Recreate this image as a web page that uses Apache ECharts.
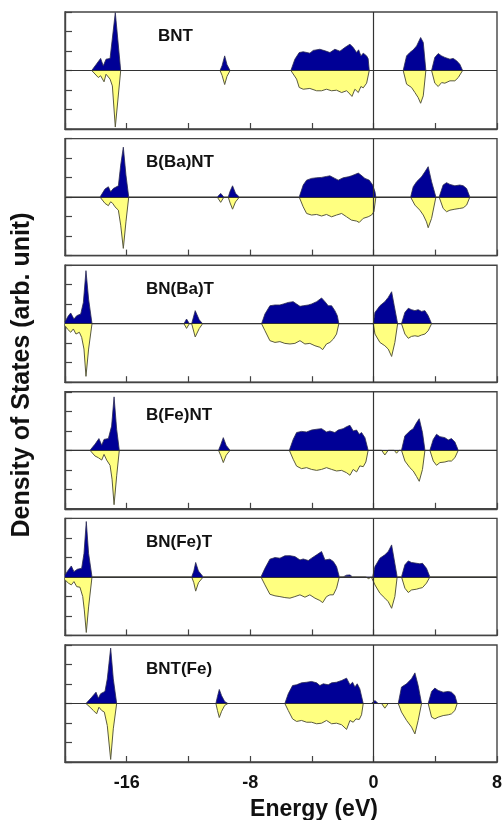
<!DOCTYPE html>
<html>
<head>
<meta charset="utf-8">
<script src="https://cdn.jsdelivr.net/npm/echarts@6/dist/echarts.min.js"></script>
<style>
  html, body { margin: 0; padding: 0; background: #fff; }
  #chart { width: 502px; height: 820px; }
</style>
</head>
<body>
<div id="chart"></div>
<script>
// Spin-resolved density of states, one panel per composition.
// Each list holds [energy (eV), DOS (arb. unit)] pairs; spin-down values are negative.
const panelNames = ['BNT', 'B(Ba)NT', 'BN(Ba)T', 'B(Fe)NT', 'BN(Fe)T', 'BNT(Fe)'];
const energyTickLabels = [-16, -8, 0, 8];

const upBNT = [[-20,0],[-18.27,0],[-17.69,0.62],[-17.52,0.24],[-17.34,0.58],[-17.08,0.62],[-16.74,2.97],[-16.39,0],
  [-9.95,0],[-9.82,0.25],[-9.65,0.75],[-9.5,0.3],[-9.3,0],
  [-5.36,0],[-5.10,0.58],[-4.82,0.92],[-4.56,0.96],[-4.13,0.89],[-3.91,1.03],[-3.48,1.09],[-3.15,1.01],[-2.83,0.92],[-2.51,1.09],[-2.18,0.99],[-1.86,1.18],[-1.53,1.35],[-1.43,1.38],[-1.32,1.18],[-1.10,0.92],[-0.97,1.06],[-0.82,0.75],[-0.67,0.89],[-0.45,0.75],[-0.35,0.6],[-0.28,0],
  [1.92,0],[2.14,0.75],[2.35,0.92],[2.57,1.06],[2.79,1.26],[3.05,1.69],[3.22,1.44],[3.39,0],
  [3.76,0],[3.97,0.67],[4.19,0.87],[4.41,0.75],[4.62,0.67],[4.95,0.58],[5.16,0.62],[5.38,0.5],[5.59,0.32],[5.77,0],[8,0]];
const downBNT = [[-20,0],[-18.27,0],[-17.84,-0.36],[-17.69,-0.27],[-17.47,-0.58],[-17.34,-0.19],[-17.08,-0.44],[-16.93,-0.79],[-16.74,-2.9],[-16.39,0],
  [-9.95,0],[-9.82,-0.25],[-9.65,-0.72],[-9.5,-0.3],[-9.3,0],
  [-5.36,0],[-4.99,-0.44],[-4.82,-0.87],[-4.56,-0.96],[-4.13,-0.92],[-3.69,-1.04],[-3.37,-1.04],[-3.05,-0.96],[-2.72,-1.04],[-2.40,-1.01],[-2.07,-1.13],[-1.75,-1.04],[-1.53,-1.21],[-1.40,-1.33],[-1.21,-0.96],[-0.99,-1.13],[-0.82,-0.82],[-0.67,-0.89],[-0.45,-0.65],[-0.28,0],
  [1.92,0],[2.14,-0.70],[2.46,-0.87],[2.68,-1.13],[2.89,-1.39],[3.05,-1.68],[3.22,-1.30],[3.39,0],
  [3.76,0],[3.97,-0.65],[4.19,-0.82],[4.41,-0.62],[4.62,-0.65],[4.95,-0.53],[5.27,-0.53],[5.49,-0.36],[5.77,0],[8,0]];

const upBBaNT = [[-20,0],[-17.73,0],[-17.41,0.41],[-17.19,0.53],[-17.04,0.27],[-16.87,0.44],[-16.54,0.58],[-16.39,1.64],[-16.22,2.56],[-16.05,1.13],[-15.87,0],
  [-10.13,0],[-9.91,0.19],[-9.70,0],[-9.42,0],[-9.3,0.3],[-9.14,0.58],[-8.95,0.2],[-8.70,0],
  [-4.82,0],[-4.56,0.62],[-4.34,0.87],[-4.02,0.96],[-3.69,0.99],[-3.37,1.01],[-3.05,1.06],[-2.83,1.09],[-2.51,0.96],[-2.29,0.87],[-1.97,0.99],[-1.64,1.04],[-1.43,1.09],[-1.21,1.16],[-0.99,1.23],[-0.82,1.13],[-0.56,0.96],[-0.28,0.87],[-0.06,0.62],[0.09,0.27],[0.15,0],
  [2.40,0],[2.57,0.53],[2.79,0.79],[3.11,1.04],[3.33,1.30],[3.54,1.56],[3.76,0.79],[4.04,0],
  [4.25,0],[4.51,0.62],[4.73,0.74],[4.95,0.65],[5.27,0.58],[5.59,0.62],[5.81,0.58],[6.03,0.44],[6.24,0],[8,0]];
const downBBaNT = [[-20,0],[-17.73,0],[-17.41,-0.32],[-17.19,-0.44],[-17.04,-0.24],[-16.91,-0.32],[-16.76,-0.5],[-16.54,-0.67],[-16.39,-1.44],[-16.22,-2.63],[-16.05,-1.27],[-15.87,0],
  [-10.13,0],[-9.91,-0.27],[-9.70,0],[-9.42,0],[-9.3,-0.3],[-9.14,-0.62],[-8.95,-0.25],[-8.70,0],
  [-4.82,0],[-4.56,-0.5],[-4.34,-0.84],[-4.02,-0.92],[-3.69,-0.89],[-3.37,-0.97],[-3.05,-0.89],[-2.72,-1.01],[-2.40,-0.92],[-2.07,-0.84],[-1.75,-1.01],[-1.43,-1.18],[-1.10,-1.23],[-0.93,-1.30],[-0.67,-1.09],[-0.35,-1.01],[-0.13,-0.92],[0.02,-0.75],[0.15,0],
  [2.40,0],[2.68,-0.41],[3.00,-0.67],[3.22,-0.92],[3.43,-1.27],[3.54,-1.57],[3.76,-1.09],[4.04,0],
  [4.25,0],[4.51,-0.58],[4.73,-0.75],[4.95,-0.67],[5.27,-0.62],[5.59,-0.58],[5.81,-0.55],[6.03,-0.41],[6.24,0],[8,0]];

const upBNBaT = [[-20,0.10],[-19.78,0.41],[-19.63,0.55],[-19.42,0.24],[-19.24,0.41],[-18.98,0.5],[-18.81,1.09],[-18.64,2.72],[-18.47,1.26],[-18.25,0],
  [-12.29,0],[-12.12,0.24],[-11.94,0],[-11.79,0],[-11.56,0.67],[-11.3,0.2],[-11.08,0],
  [-7.26,0],[-7.04,0.50],[-6.72,0.92],[-6.39,0.96],[-6.07,0.96],[-5.85,1.01],[-5.53,1.09],[-5.21,1.13],[-4.99,1.01],[-4.77,0.89],[-4.56,0.92],[-4.23,0.96],[-4.02,1.01],[-3.69,1.13],[-3.37,1.32],[-3.15,1.13],[-2.94,0.92],[-2.72,0.92],[-2.51,0.67],[-2.35,0.41],[-2.25,0],
  [-0.02,0],[0.09,0.58],[0.41,0.92],[0.73,1.13],[0.95,1.35],[1.17,1.64],[1.34,0.92],[1.56,0],
  [1.81,0],[2.03,0.58],[2.25,0.79],[2.46,0.72],[2.68,0.67],[2.89,0.72],[3.11,0.63],[3.33,0.67],[3.54,0.41],[3.76,0],[8,0]];
const downBNBaT = [[-20,-0.10],[-19.85,-0.27],[-19.63,-0.44],[-19.46,-0.27],[-19.29,-0.53],[-19.07,-0.44],[-18.92,-0.70],[-18.77,-1.30],[-18.64,-2.70],[-18.47,-1.30],[-18.25,0],
  [-12.29,0],[-12.12,-0.24],[-11.94,0],[-11.79,0],[-11.56,-0.68],[-11.3,-0.25],[-11.08,0],
  [-7.26,0],[-7.04,-0.36],[-6.72,-0.87],[-6.39,-0.96],[-6.07,-0.92],[-5.75,-1.01],[-5.42,-1.04],[-5.10,-1.01],[-4.77,-0.87],[-4.45,-1.04],[-4.13,-1.01],[-3.80,-1.13],[-3.48,-1.21],[-3.30,-1.33],[-3.05,-1.04],[-2.83,-0.96],[-2.61,-0.79],[-2.40,-0.53],[-2.25,0],
  [-0.02,0],[0.09,-0.53],[0.41,-0.96],[0.73,-1.13],[0.95,-1.30],[1.17,-1.68],[1.38,-0.96],[1.56,0],
  [1.81,0],[2.03,-0.53],[2.25,-0.75],[2.46,-0.65],[2.68,-0.62],[2.89,-0.65],[3.11,-0.58],[3.33,-0.53],[3.54,-0.36],[3.76,0],[8,0]];

const upBFeNT = [[-20,0],[-18.38,0],[-18.06,0.31],[-17.80,0.60],[-17.62,0.26],[-17.47,0.56],[-17.19,0.60],[-16.98,1.24],[-16.82,2.74],[-16.65,1.07],[-16.48,0],
  [-10.05,0],[-9.9,0.3],[-9.74,0.65],[-9.55,0.25],[-9.3,0],
  [-5.46,0],[-5.21,0.56],[-4.99,0.91],[-4.67,0.97],[-4.34,0.94],[-4.02,1.04],[-3.69,1.08],[-3.37,1.11],[-3.05,0.94],[-2.83,0.99],[-2.51,0.91],[-2.29,1.04],[-1.97,1.11],[-1.75,1.21],[-1.53,1.28],[-1.32,0.99],[-1.10,1.04],[-0.93,0.82],[-0.78,0.91],[-0.56,0.65],[-0.35,0],
  [1.81,0],[2.03,0.74],[2.35,0.99],[2.57,1.11],[2.79,1.42],[2.96,1.62],[3.17,0.91],[3.33,0],
  [3.65,0],[3.87,0.56],[4.08,0.82],[4.30,0.70],[4.62,0.65],[4.84,0.53],[5.05,0.60],[5.27,0.43],[5.49,0],[8,0]];
const downBFeNT = [[-20,0],[-18.38,0],[-18.06,-0.29],[-17.84,-0.38],[-17.62,-0.50],[-17.47,-0.21],[-17.30,-0.50],[-17.08,-0.77],[-16.95,-1.48],[-16.82,-2.79],[-16.65,-1.31],[-16.48,0],
  [-10.05,0],[-9.9,-0.28],[-9.74,-0.63],[-9.55,-0.25],[-9.3,0],
  [-5.46,0],[-5.21,-0.46],[-4.99,-0.81],[-4.67,-0.94],[-4.34,-0.89],[-4.02,-0.98],[-3.69,-1.03],[-3.37,-0.98],[-3.05,-0.89],[-2.72,-0.98],[-2.40,-1.06],[-2.07,-1.03],[-1.75,-1.15],[-1.53,-1.28],[-1.32,-0.98],[-1.10,-1.11],[-0.89,-0.80],[-0.67,-0.84],[-0.50,-0.60],[-0.35,0],
  [0.52,0],[0.73,-0.24],[0.95,0],[1.34,0],[1.49,-0.15],[1.65,0],
  [1.81,0],[2.03,-0.55],[2.35,-0.89],[2.57,-1.06],[2.79,-1.35],[2.96,-1.59],[3.17,-0.98],[3.33,0],
  [3.65,0],[3.87,-0.55],[4.08,-0.77],[4.30,-0.63],[4.62,-0.60],[4.84,-0.55],[5.05,-0.55],[5.27,-0.38],[5.49,0],[8,0]];

const upBNFeT = [[-20,0.10],[-19.78,0.36],[-19.59,0.56],[-19.42,0.27],[-19.20,0.39],[-18.92,0.44],[-18.77,1.20],[-18.62,2.84],[-18.47,1.20],[-18.25,0],
  [-11.79,0],[-11.65,0.3],[-11.53,0.74],[-11.35,0.3],[-11.04,0],
  [-7.30,0],[-7.04,0.44],[-6.72,0.91],[-6.39,0.99],[-6.07,0.96],[-5.75,1.08],[-5.42,1.09],[-5.10,1.04],[-4.77,0.87],[-4.56,0.92],[-4.23,0.84],[-4.02,0.96],[-3.69,1.13],[-3.37,1.30],[-3.15,0.87],[-2.83,0.91],[-2.61,0.79],[-2.40,0.53],[-2.22,0],
  [-1.97,0],[-1.75,0.09],[-1.53,0.10],[-1.36,0],
  [-0.06,0],[0.09,0.53],[0.41,0.96],[0.73,1.13],[0.95,1.30],[1.17,1.64],[1.34,0.87],[1.53,0],
  [1.81,0],[2.03,0.62],[2.25,0.82],[2.46,0.74],[2.79,0.70],[3.00,0.67],[3.17,0.70],[3.43,0.44],[3.65,0],[8,0]];
const downBNFeT = [[-20,-0.15],[-19.78,-0.32],[-19.59,-0.41],[-19.42,-0.24],[-19.24,-0.50],[-19.03,-0.53],[-18.85,-1.01],[-18.75,-1.69],[-18.62,-2.85],[-18.47,-1.54],[-18.25,0],
  [-11.79,0],[-11.65,-0.3],[-11.53,-0.73],[-11.35,-0.3],[-11.04,0],
  [-7.30,0],[-7.04,-0.41],[-6.72,-0.89],[-6.39,-0.97],[-6.07,-1.01],[-5.75,-1.06],[-5.42,-1.09],[-5.10,-1.01],[-4.77,-0.92],[-4.45,-1.04],[-4.13,-0.92],[-3.80,-1.09],[-3.48,-1.21],[-3.30,-1.32],[-3.05,-1.01],[-2.83,-0.92],[-2.61,-0.92],[-2.40,-0.58],[-2.22,0],
  [-0.50,0],[-0.32,-0.09],[-0.15,0],
  [-0.06,0],[0.09,-0.41],[0.41,-0.84],[0.73,-1.09],[0.95,-1.27],[1.17,-1.61],[1.38,-1.01],[1.53,0],
  [1.81,0],[2.03,-0.58],[2.25,-0.80],[2.46,-0.67],[2.79,-0.63],[3.00,-0.58],[3.17,-0.55],[3.43,-0.32],[3.65,0],[8,0]];

const upBNTFe = [[-20,0],[-18.64,0],[-18.27,0.32],[-17.99,0.58],[-17.84,0.27],[-17.69,0.50],[-17.41,0.62],[-17.26,1.26],[-17.04,2.84],[-16.87,1.26],[-16.65,0],
  [-10.22,0],[-10.12,0.35],[-10.0,0.72],[-9.85,0.4],[-9.65,0.1],[-9.44,0],
  [-5.75,0],[-5.53,0.50],[-5.25,0.92],[-4.99,0.96],[-4.67,1.06],[-4.34,1.09],[-4.02,1.13],[-3.69,1.06],[-3.48,0.92],[-3.26,1.01],[-2.94,0.96],[-2.72,1.06],[-2.40,1.09],[-2.07,1.18],[-1.75,1.30],[-1.53,0.96],[-1.36,1.09],[-1.21,0.84],[-1.06,1.01],[-0.89,0.75],[-0.67,0],
  [-0.15,0],[0.09,0.15],[0.30,0],
  [1.60,0],[1.81,0.84],[2.14,1.01],[2.46,1.27],[2.68,1.57],[2.89,0.92],[3.11,0],
  [3.54,0],[3.76,0.62],[3.97,0.79],[4.19,0.67],[4.51,0.58],[4.84,0.62],[5.05,0.58],[5.27,0.41],[5.42,0],[8,0]];
const downBNTFe = [[-20,0],[-18.64,0],[-18.38,-0.19],[-18.16,-0.36],[-17.95,-0.53],[-17.80,-0.19],[-17.62,-0.36],[-17.45,-0.44],[-17.26,-1.13],[-17.04,-2.87],[-16.87,-1.30],[-16.65,0],
  [-10.22,0],[-10.12,-0.35],[-10.0,-0.72],[-9.85,-0.4],[-9.65,-0.1],[-9.44,0],
  [-5.75,0],[-5.53,-0.36],[-5.25,-0.79],[-4.99,-0.92],[-4.67,-0.87],[-4.34,-0.96],[-4.02,-0.96],[-3.69,-1.04],[-3.37,-1.01],[-3.05,-0.87],[-2.72,-1.04],[-2.40,-1.01],[-2.07,-1.09],[-1.75,-1.33],[-1.53,-0.87],[-1.32,-0.96],[-1.14,-0.79],[-0.93,-0.82],[-0.78,-0.58],[-0.67,0],
  [0.52,0],[0.73,-0.24],[0.95,0],
  [1.60,0],[1.81,-0.44],[2.14,-0.87],[2.46,-1.21],[2.68,-1.56],[2.89,-0.87],[3.11,0],
  [3.54,0],[3.76,-0.70],[3.97,-0.79],[4.19,-0.70],[4.51,-0.62],[4.84,-0.58],[5.05,-0.53],[5.27,-0.36],[5.42,0],[8,0]];

const spinUp = [upBNT, upBBaNT, upBNBaT, upBFeNT, upBNFeT, upBNTFe];
const spinDown = [downBNT, downBBaNT, downBNBaT, downBFeNT, downBNFeT, downBNTFe];

// Panel geometry (px)
const LEFT = 65, WIDTH = 432, TOP0 = 12, STEP = 126.6, HEIGHT = 117;
const FONT = '"Liberation Sans", Arial, Helvetica, sans-serif';
const FRAME = '#444';

const grids = [], xAxes = [], yAxes = [], series = [], graphics = [];
panelNames.forEach((name, i) => {
  const top = TOP0 + i * STEP;
  const last = i === panelNames.length - 1;
  grids.push({ left: LEFT, top: top, width: WIDTH, height: HEIGHT,
    containLabel: false, outerBoundsMode: 'none',
    show: true, borderColor: FRAME, borderWidth: 1.4, backgroundColor: '#fff' });
  xAxes.push({
    type: 'value', gridIndex: i, min: -20, max: 8, interval: 4,
    axisLine: { show: true, onZero: false, lineStyle: { color: FRAME, width: 1.4 } },
    axisTick: { show: true, inside: true, length: 6, lineStyle: { color: FRAME, width: 1.2 } },
    splitLine: { show: false },
    axisLabel: {
      show: last, margin: 12, color: '#111', fontFamily: FONT, fontWeight: 'bold', fontSize: 18,
      showMinLabel: true, showMaxLabel: true, hideOverlap: false,
      formatter: v => energyTickLabels.includes(v) ? String(v) : ''
    }
  });
  yAxes.push({
    type: 'value', gridIndex: i, min: -3, max: 3, interval: 1,
    axisLine: { show: true, onZero: false, lineStyle: { color: FRAME, width: 1.4 } },
    axisTick: { show: true, inside: true, length: 7, lineStyle: { color: FRAME, width: 1.2 } },
    splitLine: { show: false },
    axisLabel: { show: false }
  });
  series.push({
    type: 'line', xAxisIndex: i, yAxisIndex: i, data: spinUp[i],
    showSymbol: false, smooth: false, silent: true,
    lineStyle: { color: '#2a2a50', width: 0.8 },
    areaStyle: { color: '#000096', opacity: 1 }
  });
  series.push({
    type: 'line', xAxisIndex: i, yAxisIndex: i, data: spinDown[i],
    showSymbol: false, smooth: false, silent: true,
    lineStyle: { color: '#5a5a40', width: 1 },
    areaStyle: { color: '#FFFF80', opacity: 1 },
    markLine: {
      silent: true, symbol: 'none', label: { show: false },
      lineStyle: { color: '#333', width: 1.2, type: 'solid' },
      data: [{ xAxis: 0 }, { yAxis: 0 }]
    }
  });
  graphics.push({
    type: 'text', left: i === 0 ? 158 : 146, top: top + 24.5 - 9,
    style: { text: name, font: 'bold 17px ' + FONT, fill: '#111' }
  });
});

graphics.push({
  type: 'text', x: 314, y: 810,
  style: { text: 'Energy (eV)', font: 'bold 23px ' + FONT, fill: '#111',
    textAlign: 'center', textVerticalAlign: 'middle' }
});
graphics.push({
  type: 'text', x: 22, y: 375, rotation: Math.PI / 2,
  style: { text: 'Density of States (arb. unit)', font: 'bold 25px ' + FONT, fill: '#111',
    textAlign: 'center', textVerticalAlign: 'middle' }
});

const chart = echarts.init(document.getElementById('chart'), null, { renderer: 'canvas' });
chart.setOption({
  animation: false,
  backgroundColor: '#fff',
  grid: grids, xAxis: xAxes, yAxis: yAxes, series: series,
  graphic: graphics
});
</script>
</body>
</html>
